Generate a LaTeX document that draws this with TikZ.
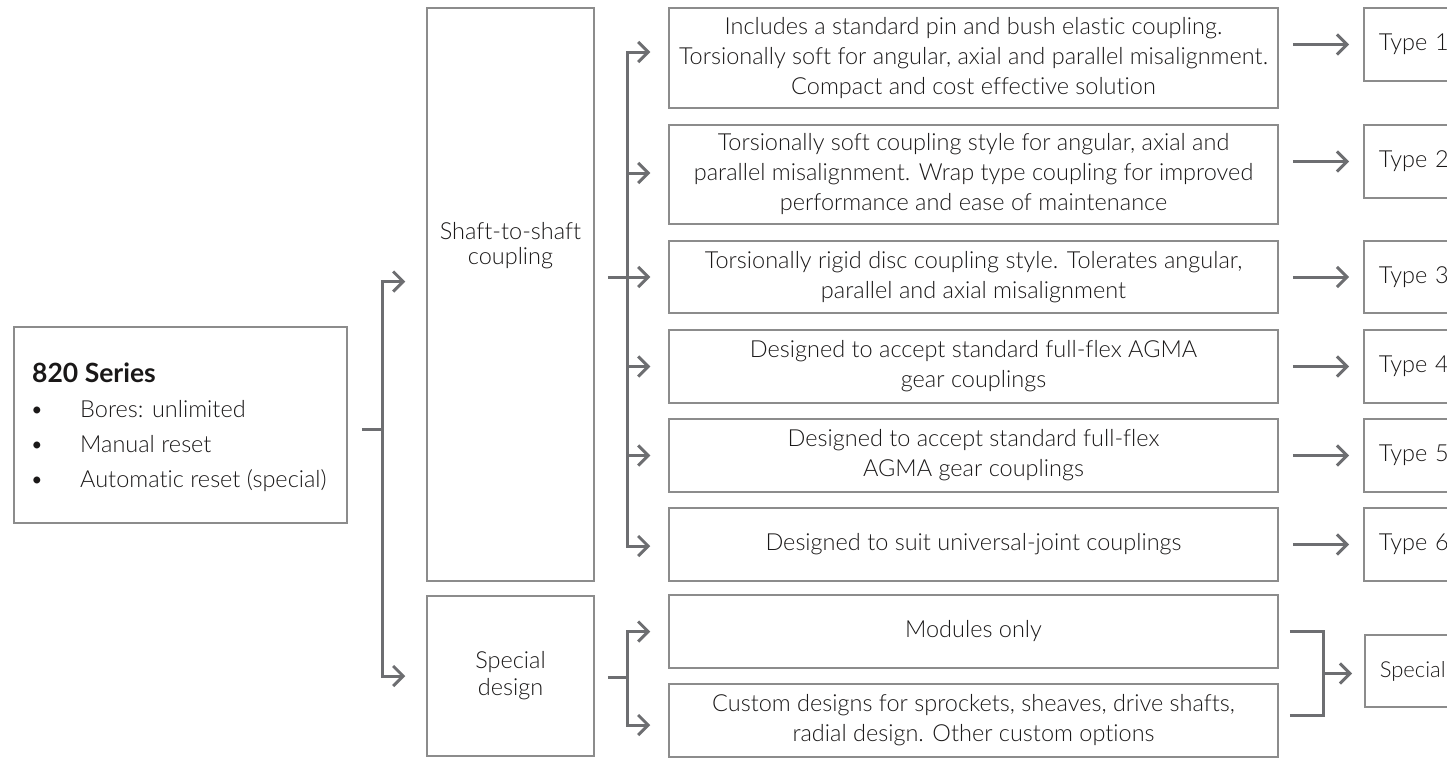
\documentclass[tikz,border=0pt]{standalone}
\usepackage{fontspec}
\setmainfont{Lato}[UprightFont={* Light}, BoldFont={* Bold}, Ligatures={NoCommon}]
\usetikzlibrary{arrows.meta,calc}
\definecolor{linec}{HTML}{6D6E71}
\definecolor{boxc}{HTML}{8C8C8C}
\definecolor{txtc}{HTML}{1A1818}
\tikzset{
  box/.style={draw=boxc, line width=1.5pt, rectangle, inner sep=0pt, text=txtc, align=center,
              minimum width=609pt, font=\fontsize{23.5}{30}\selectfont},
  typebox/.style={box, anchor=west, minimum width=170pt, text width=140pt, align=left, inner xsep=15pt},
  conn/.style={draw=linec, line width=3pt},
  arr/.style={-{Straight Barb[length=10pt,width=20pt]}},
  lbl/.style={inner sep=0pt, text=txtc, font=\fontsize{23.5}{30}\selectfont, anchor=base west},
}
\begin{document}
\begin{tikzpicture}[x=1pt,y=-1pt]
\useasboundingbox (0,0) rectangle (1447,758);
\clip (0,0) rectangle (1447,758);

% left box
\node[box, minimum width=333pt, minimum height=196pt] (series) at (180.5,425) {};
\node[lbl, font=\fontsize{26.5}{30}\bfseries] (ttl) at (32,382) {820 Series};
\node[lbl] (b1) at (30,417) {\textbullet};
\node[lbl] (b2) at (30,452) {\textbullet};
\node[lbl] (b3) at (30,487) {\textbullet};
\node[lbl] (l1) at (80,417) {Bores: unlimited};
\node[lbl] (l2) at (80,452) {Manual reset};
\node[lbl] (l3) at (80,487) {Automatic reset (special)};

% second column
\node[box, minimum width=167pt, minimum height=573pt] (shaft) at (510.5,294.5) {};
\node[lbl, anchor=center, align=center, font=\fontsize{23.5}{25}\selectfont] (shafttxt) at (510.5,246) {Shaft-to-shaft\\coupling};
\node[box, minimum width=167pt, minimum height=160pt, font=\fontsize{23.5}{27}\selectfont] (spd) at (510.5,676) {Special\\design};

% descriptions
\node[box, minimum height=100pt] (d1) at (973.5,58) {Includes a standard pin and bush elastic coupling.\\Torsionally soft for angular, axial and parallel misalignment.\\Compact and cost effective solution};
\node[box, minimum height=99pt] (d2) at (973.5,174.5) {Torsionally soft coupling style for angular, axial and\\parallel misalignment. Wrap type coupling for improved\\performance and ease of maintenance};
\node[box, minimum height=72pt] (d3) at (973.5,277) {Torsionally rigid disc coupling style. Tolerates angular,\\parallel and axial misalignment};
\node[box, minimum height=73pt] (d4) at (973.5,366.5) {Designed to accept standard full-flex AGMA\\gear couplings};
\node[box, minimum height=73pt] (d5) at (973.5,455.5) {Designed to accept standard full-flex\\AGMA gear couplings};
\node[box, minimum height=73pt] (d6) at (973.5,544.5) {Designed to suit universal-joint couplings};
\node[box, minimum height=73pt] (m1) at (973.5,631.5) {Modules only};
\node[box, minimum height=73pt] (m2) at (973.5,720.5) {Custom designs for sprockets, sheaves, drive shafts,\\radial design. Other custom options};

% types
\node[typebox, minimum height=73pt] (t1) at (1363,44.5) {Type 1};
\node[typebox, minimum height=73pt] (t2) at (1363,161.5) {Type 2};
\node[typebox, minimum height=72pt] (t3) at (1363,277) {Type 3};
\node[typebox, minimum height=73pt] (t4) at (1363,366.5) {Type 4};
\node[typebox, minimum height=73pt] (t5) at (1363,455.5) {Type 5};
\node[typebox, minimum height=73pt] (t6) at (1363,544.5) {Type 6};
\node[typebox, minimum height=72pt, inner xsep=6pt, font=\fontsize{22}{30}\selectfont] (sp) at (1364,671) {Special};

% junctions
\coordinate (j1) at (382,429);
\coordinate (j2) at (627.5,277);
\coordinate (j3) at (627.5,677);
\coordinate (j4) at (1323,673.5);

% left connector
\draw[conn, shorten <=14pt] (series.east |- j1) -- (j1);
\draw[conn, arr, shorten >=21pt] (j1) |- ([yshift=13pt]shaft.west);
\draw[conn, arr, shorten >=21pt] (j1) |- (spd.west);

% shaft branch
\draw[conn, shorten <=13pt] (shaft.east |- j2) -- (j2);
\draw[conn, arr, shorten >=18pt] (j2) |- ([yshift=6pt]d1.west);
\draw[conn, arr, shorten >=18pt] (j2) |- ([yshift=1.5pt]d2.west);
\draw[conn, arr, shorten >=18pt] (j2) -- (d3.west);
\draw[conn, arr, shorten >=18pt] (j2) |- (d4.west);
\draw[conn, arr, shorten >=18pt] (j2) |- (d5.west);
\draw[conn, arr, shorten >=18pt] (j2) |- ([yshift=-1.5pt]d6.west);

% special branch
\draw[conn, shorten <=13pt] (spd.east |- j3) -- (j3);
\draw[conn, arr, shorten >=18pt] (j3) |- (m1.west);
\draw[conn, arr, shorten >=18pt] (j3) |- ([yshift=-4.5pt]m2.west);

% to types
\foreach \d/\t in {d1/t1,d2/t2,d3/t3,d4/t4,d5/t5,d6/t6}
  \draw[conn, arr, shorten <=14pt, shorten >=14pt] (\t.west -| \d.east) -- (\t.west);

% merge
\draw[conn, shorten <=11pt] (m1.east) -| (j4);
\draw[conn, shorten <=11pt] ([yshift=5.5pt]m2.east) -| (j4);
\draw[conn, arr, shorten >=12pt] (j4) -- (sp.west |- j4);
\end{tikzpicture}
\end{document}
